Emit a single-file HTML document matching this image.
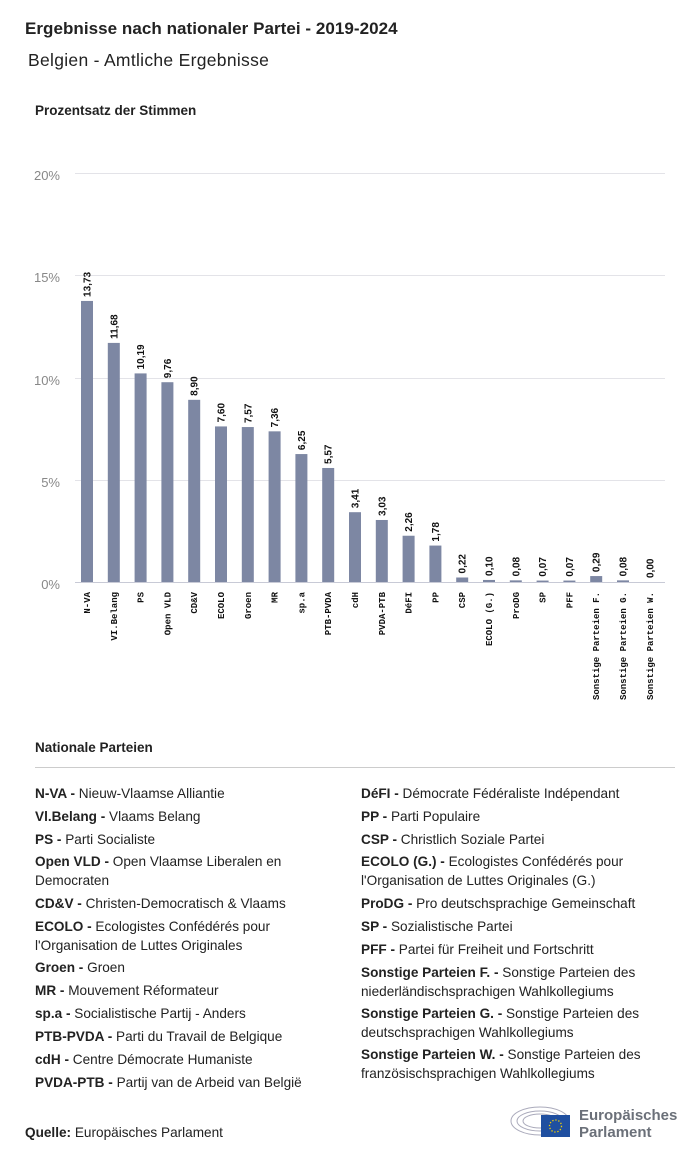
<!DOCTYPE html>
<html><head><meta charset="utf-8"><style>
body{margin:0;width:700px;height:1159px;background:#fff;font-family:"Liberation Sans",sans-serif;color:#222;position:relative;overflow:hidden}
.a{position:absolute;white-space:nowrap}
.it{position:absolute;font-size:13.6px;line-height:18.5px;color:#222;width:330px}
.it b{font-weight:bold}
</style></head><body>
<div class="a" style="left:25px;top:19px;font-size:17px;font-weight:bold;letter-spacing:0.05px">Ergebnisse nach nationaler Partei - 2019-2024</div>
<div class="a" style="left:28px;top:50px;font-size:17.5px;letter-spacing:0.3px">Belgien - Amtliche Ergebnisse</div>
<div class="a" style="left:35px;top:103px;font-size:13.5px;font-weight:bold">Prozentsatz der Stimmen</div>
<svg class="a" style="left:0;top:0" width="700" height="730">
<g stroke="#e3e3e8" stroke-width="1">
<line x1="75" x2="665" y1="173.5" y2="173.5"/><line x1="75" x2="665" y1="275.5" y2="275.5"/>
<line x1="75" x2="665" y1="378.5" y2="378.5"/><line x1="75" x2="665" y1="480.5" y2="480.5"/>
<line x1="75" x2="665" y1="582.5" y2="582.5" stroke="#c8cad6"/></g>
<g font-size="13" fill="#888" text-anchor="end" font-family="Liberation Sans">
<text x="60" y="180">20%</text><text x="60" y="282">15%</text><text x="60" y="385">10%</text><text x="60" y="487">5%</text><text x="60" y="589">0%</text></g>
<g id="bars"></g>
</svg>
<script>
var d=[["N-VA",13.73],["VI.Belang",11.68],["PS",10.19],["Open VLD",9.76],["CD&V",8.90],["ECOLO",7.60],["Groen",7.57],["MR",7.36],["sp.a",6.25],["PTB-PVDA",5.57],["cdH",3.41],["PVDA-PTB",3.03],["DéFI",2.26],["PP",1.78],["CSP",0.22],["ECOLO (G.)",0.10],["ProDG",0.08],["SP",0.07],["PFF",0.07],["Sonstige Parteien F.",0.29],["Sonstige Parteien G.",0.08],["Sonstige Parteien W.",0.00]];
var s="";d.forEach(function(e,i){var cx=87+i*26.8,h=e[1]*20.47,y=582-h;
s+='<rect x="'+(cx-6)+'" y="'+y+'" width="12" height="'+h+'" fill="#7d87a3"/>';
s+='<text transform="translate('+(cx+3.5)+','+(y-4)+') rotate(-90)" font-size="10" font-weight="bold" fill="#111" font-family="Liberation Sans">'+e[1].toFixed(2).replace(".",",")+'</text>';
s+='<text transform="translate('+(cx+3)+',592) rotate(-90)" text-anchor="end" font-size="9" font-weight="bold" fill="#111" font-family="Liberation Mono">'+e[0].replace(/&/g,"&amp;")+'</text>';});
document.getElementById("bars").innerHTML=s;
</script>
<div class="a" style="left:35px;top:740px;font-size:13.5px;font-weight:bold">Nationale Parteien</div>
<div class="a" style="left:35px;top:767px;width:640px;height:1px;background:#ccc"></div>
<div class="it" style="left:35px;top:785px"><b>N-VA -</b> Nieuw-Vlaamse Alliantie</div>
<div class="it" style="left:35px;top:808px"><b>Vl.Belang -</b> Vlaams Belang</div>
<div class="it" style="left:35px;top:831px"><b>PS -</b> Parti Socialiste</div>
<div class="it" style="left:35px;top:853px"><b>Open VLD -</b> Open Vlaamse Liberalen en<br>Democraten</div>
<div class="it" style="left:35px;top:895px"><b>CD&amp;V -</b> Christen-Democratisch &amp; Vlaams</div>
<div class="it" style="left:35px;top:918px"><b>ECOLO -</b> Ecologistes Confédérés pour<br>l'Organisation de Luttes Originales</div>
<div class="it" style="left:35px;top:959px"><b>Groen -</b> Groen</div>
<div class="it" style="left:35px;top:982px"><b>MR -</b> Mouvement Réformateur</div>
<div class="it" style="left:35px;top:1005px"><b>sp.a -</b> Socialistische Partij - Anders</div>
<div class="it" style="left:35px;top:1028px"><b>PTB-PVDA -</b> Parti du Travail de Belgique</div>
<div class="it" style="left:35px;top:1051px"><b>cdH -</b> Centre Démocrate Humaniste</div>
<div class="it" style="left:35px;top:1074px"><b>PVDA-PTB -</b> Partij van de Arbeid van België</div>
<div class="it" style="left:361px;top:785px"><b>DéFI -</b> Démocrate Fédéraliste Indépendant</div>
<div class="it" style="left:361px;top:808px"><b>PP -</b> Parti Populaire</div>
<div class="it" style="left:361px;top:831px"><b>CSP -</b> Christlich Soziale Partei</div>
<div class="it" style="left:361px;top:853px"><b>ECOLO (G.) -</b> Ecologistes Confédérés pour<br>l'Organisation de Luttes Originales (G.)</div>
<div class="it" style="left:361px;top:895px"><b>ProDG -</b> Pro deutschsprachige Gemeinschaft</div>
<div class="it" style="left:361px;top:918px"><b>SP -</b> Sozialistische Partei</div>
<div class="it" style="left:361px;top:941px"><b>PFF -</b> Partei für Freiheit und Fortschritt</div>
<div class="it" style="left:361px;top:964px"><b>Sonstige Parteien F. -</b> Sonstige Parteien des<br>niederländischsprachigen Wahlkollegiums</div>
<div class="it" style="left:361px;top:1005px"><b>Sonstige Parteien G. -</b> Sonstige Parteien des<br>deutschsprachigen Wahlkollegiums</div>
<div class="it" style="left:361px;top:1046px"><b>Sonstige Parteien W. -</b> Sonstige Parteien des<br>französischsprachigen Wahlkollegiums</div>
<div class="a" style="left:25px;top:1125px;font-size:13.6px"><b>Quelle:</b> Europäisches Parlament</div>
<svg class="a" style="left:505px;top:1103px" width="70" height="38">
<g fill="none" stroke="#aab" stroke-width="1"><ellipse cx="35" cy="18" rx="29" ry="14"/><ellipse cx="35" cy="18" rx="23" ry="10"/><ellipse cx="35" cy="18" rx="17" ry="7"/></g>
<rect x="36" y="12" width="29" height="22" fill="#1f4fa0"/>
<circle cx="50.5" cy="23" r="6" fill="none" stroke="#f5d000" stroke-width="1.3" stroke-dasharray="1.3 1.8"/>
</svg>
<div class="a" style="left:579px;top:1107px;font-size:15px;font-weight:bold;color:#6b7079;line-height:17px">Europäisches<br>Parlament</div>
</body></html>
